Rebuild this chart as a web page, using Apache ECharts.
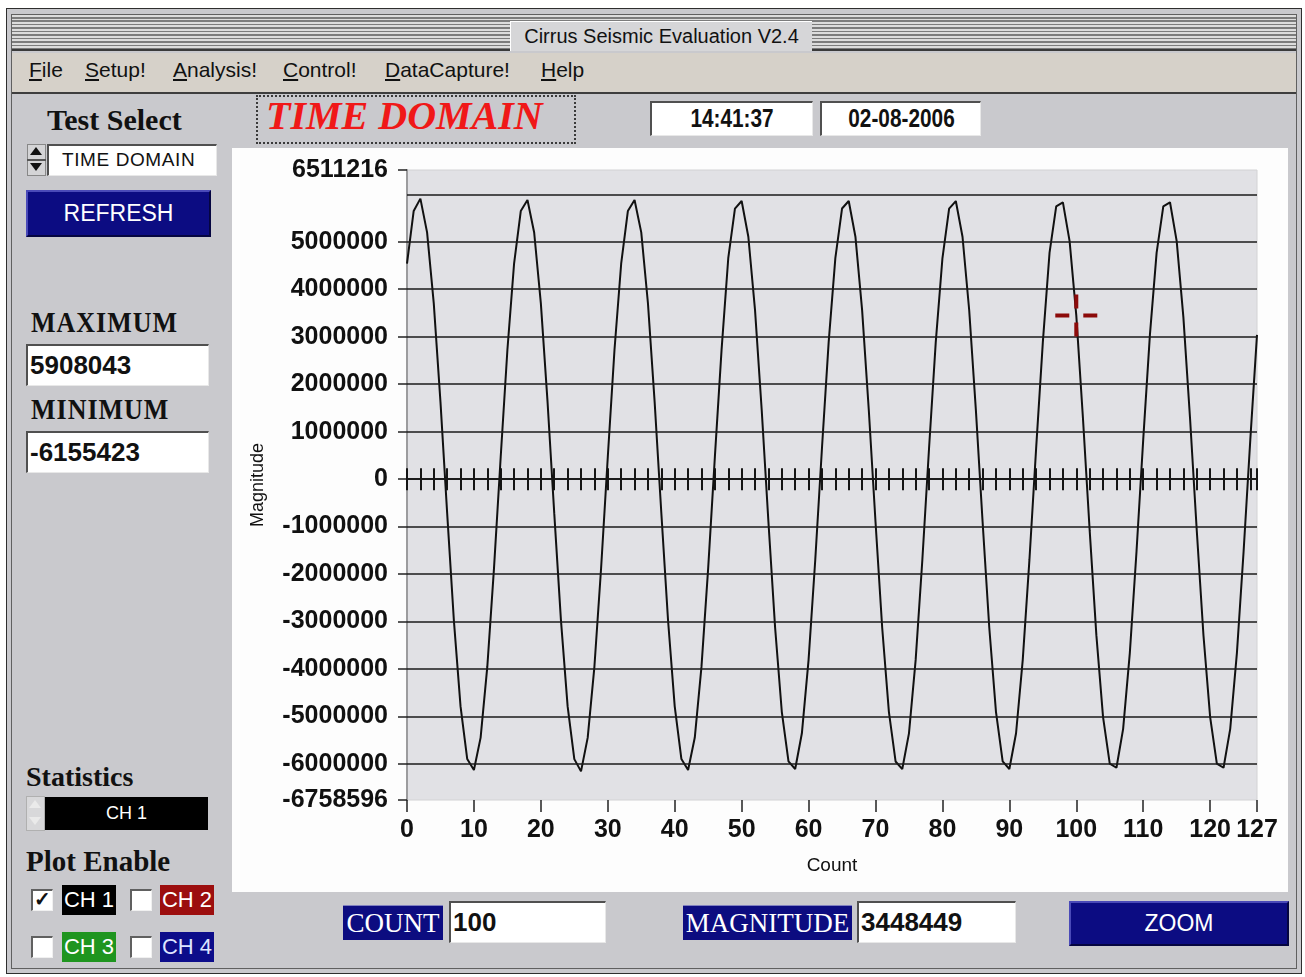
<!DOCTYPE html>
<html><head><meta charset="utf-8">
<script src="https://cdn.jsdelivr.net/npm/echarts@6/dist/echarts.min.js"></script>
<style>
html,body{margin:0;padding:0;background:#fff;width:1305px;height:977px;overflow:hidden;font-family:'Liberation Sans',Arial,sans-serif;color:#111;}
.a{position:absolute;box-sizing:border-box;}
.narrow{font-family:'Liberation Sans',Arial,sans-serif;}
.serif{font-family:'Liberation Serif','Times New Roman',serif;}
.sunk{background:#fff;border-top:2px solid #505050;border-left:2px solid #505050;border-right:1px solid #e8e8e8;border-bottom:1px solid #e8e8e8;}
.val{font-family:'Liberation Sans',Arial,sans-serif;font-weight:bold;font-size:26px;line-height:38px;padding-left:2px;}
.hdr{font-family:'Liberation Serif',serif;font-weight:bold;white-space:nowrap;}
.navy{background:#0c0c80;color:#fff;}
.btn{background:#0c0c82;color:#fff;text-align:center;border-top:2px solid #4a4ab8;border-left:2px solid #4a4ab8;border-right:2px solid #050540;border-bottom:2px solid #050540;}
.cb{width:22px;height:22px;background:#fff;border-top:2px solid #606060;border-left:2px solid #606060;border-right:1px solid #f0f0f0;border-bottom:1px solid #f0f0f0;}
.ch{width:54px;height:30px;color:#fff;font-size:22px;line-height:30px;text-align:center;}
.menu{top:58px;font-size:21px;white-space:nowrap;}
.clock{text-align:center;font-weight:bold;font-size:26px;line-height:31px;}
.clock span{display:inline-block;transform:scaleX(0.8);transform-origin:center;}
</style></head>
<body>
<div class="a" style="left:6px;top:8px;width:1296px;height:966px;background:#c9c9cd;border:1px solid #2e2e2e;"></div>
<div class="a" style="left:11px;top:14px;width:1286px;height:955px;border:1px solid #606060;"></div>
<!-- title bar -->
<div class="a" style="left:12px;top:15px;width:1284px;height:36px;background:repeating-linear-gradient(180deg,#dcdcdc 0px,#dcdcdc 2px,#7c7c7c 2px,#7c7c7c 3.5px);border-bottom:2px solid #3a3a3a;"></div>
<div class="a narrow" style="left:510px;top:21px;width:302px;height:30px;background:#d6d6d8;border-top:1px solid #fff;border-left:1px solid #fff;text-align:center;font-size:20px;line-height:29px;white-space:nowrap;">Cirrus Seismic Evaluation V2.4</div>
<!-- menu -->
<div class="a" style="left:12px;top:53px;width:1284px;height:41px;background:#d6d1c9;border-bottom:2px solid #3e3e3e;"></div>
<div class="a narrow menu" style="left:29px;"><u>F</u>ile</div>
<div class="a narrow menu" style="left:85px;"><u>S</u>etup!</div>
<div class="a narrow menu" style="left:173px;"><u>A</u>nalysis!</div>
<div class="a narrow menu" style="left:283px;"><u>C</u>ontrol!</div>
<div class="a narrow menu" style="left:385px;"><u>D</u>ataCapture!</div>
<div class="a narrow menu" style="left:541px;"><u>H</u>elp</div>
<!-- header row -->
<div class="a" style="left:256px;top:95px;width:320px;height:49px;border:2px dotted #3a3a3a;"></div>
<div class="a serif" style="left:266px;top:94px;font-size:40px;font-weight:bold;font-style:italic;color:#f01818;white-space:nowrap;line-height:44px;">TIME DOMAIN</div>
<div class="a sunk narrow clock" style="left:650px;top:101px;width:163px;height:35px;"><span id="timeBox"></span></div>
<div class="a sunk narrow clock" style="left:820px;top:101px;width:161px;height:35px;"><span id="dateBox"></span></div>
<!-- left panel -->
<div class="a hdr" style="left:47px;top:103px;font-size:30px;line-height:34px;">Test Select</div>
<div class="a" style="left:27px;top:144px;width:19px;height:32px;background:#d4d4d6;border:1px solid #888;"></div>
<div class="a" style="left:30px;top:147px;width:0;height:0;border-left:6px solid transparent;border-right:6px solid transparent;border-bottom:8px solid #111;"></div>
<div class="a" style="left:30px;top:163px;width:0;height:0;border-left:6px solid transparent;border-right:6px solid transparent;border-top:8px solid #111;"></div>
<div class="a" style="left:27px;top:159px;width:19px;height:2px;background:#555;"></div>
<div class="a sunk" style="left:47px;top:144px;width:170px;height:32px;font-size:19px;line-height:28px;padding-left:13px;letter-spacing:0.6px;">TIME DOMAIN</div>
<div class="a btn" style="left:26px;top:190px;width:185px;height:47px;font-size:23px;line-height:42px;">REFRESH</div>
<div class="a hdr" style="left:31px;top:304px;font-size:26px;line-height:34px;font-weight:900;letter-spacing:1px;transform:scaleY(1.1);transform-origin:left top;">MAXIMUM</div>
<div class="a sunk val" id="maxBox" style="left:26px;top:344px;width:183px;height:42px;"></div>
<div class="a hdr" style="left:31px;top:391px;font-size:26px;line-height:34px;font-weight:900;letter-spacing:1px;transform:scaleY(1.1);transform-origin:left top;">MINIMUM</div>
<div class="a sunk val" id="minBox" style="left:26px;top:431px;width:183px;height:42px;"></div>
<div class="a hdr" style="left:26px;top:760px;font-size:28px;line-height:34px;">Statistics</div>
<div class="a" style="left:26px;top:796px;width:19px;height:35px;background:#d8d8da;border:1px solid #b0b0b0;"></div>
<div class="a" style="left:29px;top:800px;width:0;height:0;border-left:6px solid transparent;border-right:6px solid transparent;border-bottom:8px solid #eaeaea;"></div>
<div class="a" style="left:29px;top:817px;width:0;height:0;border-left:6px solid transparent;border-right:6px solid transparent;border-top:8px solid #eaeaea;"></div>
<div class="a" style="left:45px;top:797px;width:163px;height:33px;background:#000;color:#fff;text-align:center;font-size:18px;line-height:33px;">CH 1</div>
<div class="a hdr" style="left:26px;top:843px;font-size:29px;line-height:36px;">Plot Enable</div>
<div class="a cb" style="left:31px;top:889px;font-size:20px;line-height:17px;font-weight:bold;text-align:center;">&#10003;</div>
<div class="a ch" style="left:62px;top:885px;background:#000;">CH 1</div>
<div class="a cb" style="left:130px;top:889px;"></div>
<div class="a ch" style="left:160px;top:885px;background:#9c0e0e;">CH 2</div>
<div class="a cb" style="left:31px;top:936px;"></div>
<div class="a ch" style="left:62px;top:932px;background:#1f951f;">CH 3</div>
<div class="a cb" style="left:130px;top:936px;"></div>
<div class="a ch" style="left:160px;top:932px;background:#0c0c8a;color:#dde4ff;">CH 4</div>
<!-- chart panel -->
<div class="a" id="chart" style="left:232px;top:148px;width:1056px;height:744px;background:#fdfdfd;"></div>
<!-- bottom controls -->
<div class="a navy serif" style="left:343px;top:905px;width:100px;height:35px;font-size:27px;line-height:35px;text-align:center;border-top:1px solid #8080c0;">COUNT</div>
<div class="a sunk val" id="countBox" style="left:449px;top:901px;width:157px;height:42px;"></div>
<div class="a navy serif" style="left:683px;top:905px;width:169px;height:35px;font-size:27px;line-height:35px;text-align:center;border-top:1px solid #8080c0;">MAGNITUDE</div>
<div class="a sunk val" id="magBox" style="left:857px;top:901px;width:159px;height:42px;"></div>
<div class="a btn" style="left:1069px;top:901px;width:220px;height:45px;font-size:23px;line-height:40px;">ZOOM</div>

<script>
// ---- data ----
const magnitude = [
  4539210, 5648377, 5908043, 5196420, 3703118, 1627045, -715322, -2968410,
  -4787265, -5896130, -6127488, -5444012, -3951207, -1875330, 467215, 2720104,
  4541087, 5646902, 5879310, 5194875, 3701964, 1625880, -716940, -2969755,
  -4788102, -5897461, -6155423, -5445398, -3952871, -1876502, 465938, 2718860,
  4536642, 5647120, 5877964, 5197233, 3704506, 1628419, -714108, -2966892,
  -4786030, -5895277, -6126015, -5442869, -3950033, -1874118, 468507, 2721433,
  4652870, 5698415, 5857903, 5105762, 3558390, 1449617, -898204, -3128876,
  -4900512, -5946830, -6105977, -5353418, -3806592, -1697845, 649906, 2880713,
  4653942, 5699830, 5858621, 5106305, 3559476, 1450862, -897115, -3129940,
  -4901688, -5947312, -6106540, -5354206, -3807710, -1698330, 650472, 2881529,
  4651708, 5698012, 5857180, 5104988, 3557821, 1448930, -899063, -3130427,
  -4902115, -5946205, -6104838, -5352740, -3805941, -1696907, 648815, 2879960,
  4763850, 5744912, 5830476, 5011937, 3448449, 1271208, -1080734, -3286915,
  -5011840, -5992670, -6078915, -5259830, -3658720, -1518904, 832716, 3038820,
  4764502, 5745380, 5831092, 5012650, 3412097, 1270586, -1081490, -3287702,
  -5012413, -5993108, -6079622, -5260417, -3659305, -1519733, 833290, 3039470
];
const xTickLabels = [0, 10, 20, 30, 40, 50, 60, 70, 80, 90, 100, 110, 120, 127];
const yTickLabels = [-6758596, -6000000, -5000000, -4000000, -3000000, -2000000, -1000000,
  0, 1000000, 2000000, 3000000, 4000000, 5000000, 6511216];
const gridLevels = [-6000000, -5000000, -4000000, -3000000, -2000000, -1000000,
  0, 1000000, 2000000, 3000000, 4000000, 5000000, 6000000];
const cursorCount = 100;
const statMaximum = 5908043;
const statMinimum = -6155423;
const clockTime = '14:41:37';
const clockDate = '02-08-2006';

// ---- panel texts ----
document.getElementById('timeBox').textContent = clockTime;
document.getElementById('dateBox').textContent = clockDate;
document.getElementById('maxBox').textContent = String(statMaximum);
document.getElementById('minBox').textContent = String(statMinimum);
document.getElementById('countBox').textContent = String(cursorCount);
document.getElementById('magBox').textContent = String(magnitude[cursorCount]);

// ---- chart ----
const points = magnitude.map((v, i) => [i, v]);
const xMin = xTickLabels[0], xMax = xTickLabels[xTickLabels.length - 1];
const yMin = yTickLabels[0], yMax = yTickLabels[yTickLabels.length - 1];
const labelFont = "'Liberation Sans',Arial,sans-serif";

const chart = echarts.init(document.getElementById('chart'), null, {renderer: 'canvas'});
const zeroAxis = (inside) => ({
  type: 'value', min: xMin, max: xMax, interval: 2, position: 'bottom',
  axisLine: {show: true, onZero: true, onZeroAxisIndex: 0, lineStyle: {color: '#151515', width: 1.5}},
  axisTick: {show: true, inside: inside, length: 11, lineStyle: {color: '#151515', width: 2}},
  axisLabel: {show: false}, splitLine: {show: false}
});
chart.setOption({
  animation: false,
  backgroundColor: '#fdfdfd',
  grid: {left: 175, right: 31, top: 22, bottom: 92, show: true, containLabel: false,
         outerBoundsMode: 'none',
         backgroundColor: '#e1e1e5', borderWidth: 1, borderColor: '#d2d2d4'},
  xAxis: [
    {
      type: 'value', min: xMin, max: xMax, position: 'bottom',
      name: 'Count', nameLocation: 'middle', nameGap: 56, nameMoveOverlap: false,
      nameTextStyle: {fontFamily: labelFont, fontSize: 19, color: '#111'},
      axisLine: {show: false, onZero: false},
      axisTick: {show: true, length: 12, customValues: xTickLabels, lineStyle: {color: '#222', width: 1.5}},
      axisLabel: {customValues: xTickLabels, margin: 18, fontFamily: labelFont, fontWeight: 'bold',
                  fontSize: 25, color: '#111', formatter: v => String(v)},
      splitLine: {show: false}
    },
    zeroAxis(true),
    zeroAxis(false)
  ],
  yAxis: {
    type: 'value', min: yMin, max: yMax,
    name: 'Magnitude', nameLocation: 'middle', nameGap: 140, nameMoveOverlap: false,
    nameTextStyle: {fontFamily: labelFont, fontSize: 18, color: '#111'},
    axisLine: {show: true, onZero: false, lineStyle: {color: '#9c9c9e', width: 2}},
    axisTick: {show: true, length: 9, customValues: yTickLabels, lineStyle: {color: '#222', width: 1.5}},
    axisLabel: {customValues: yTickLabels, margin: 19, fontFamily: labelFont, fontWeight: 'bold',
                fontSize: 25, color: '#111', formatter: v => String(Math.round(v))},
    splitLine: {show: false}
  },
  series: [
    {
      type: 'line', xAxisIndex: 0, data: points, showSymbol: false, silent: true,
      lineStyle: {color: '#111', width: 2}, z: 3,
      markLine: {
        silent: true, symbol: ['none', 'none'], label: {show: false},
        lineStyle: {color: '#1a1a1a', width: 1.6, type: 'solid'},
        emphasis: {disabled: true},
        data: gridLevels.map(v => ({yAxis: v}))
      }
    },
    {
      type: 'scatter', xAxisIndex: 0, silent: true, z: 10,
      data: [[cursorCount, magnitude[cursorCount]]],
      symbol: 'path://M0 19H14V23H0Z M28 19H42V23H28Z M19 0H23V14H19Z M19 28H23V42H19Z',
      symbolSize: 42,
      itemStyle: {color: '#8c0a0a', opacity: 1}
    }
  ]
});
</script>
</body></html>
